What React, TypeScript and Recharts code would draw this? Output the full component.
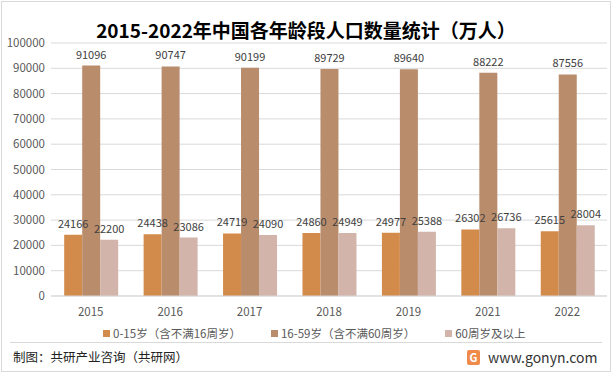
import { BarChart, Bar, XAxis, YAxis, CartesianGrid, LabelList } from "recharts";

const years = ["2015", "2016", "2017", "2018", "2019", "2021", "2022"];
const age0to15 = [24166, 24438, 24719, 24860, 24977, 26302, 25615];
const age16to59 = [91096, 90747, 90199, 89729, 89640, 88222, 87556];
const age60plus = [22200, 23086, 24090, 24949, 25388, 26736, 28004];
const yTicks = [0, 10000, 20000, 30000, 40000, 50000, 60000, 70000, 80000, 90000, 100000];

const seriesNames = ["0-15岁（含不满16周岁）", "16-59岁（含不满60周岁）", "60周岁及以上"];
const colors = ["#D38B4C", "#B98C6C", "#D2B4AA"];

const data = years.map((y, i) => ({
  year: y,
  a: age0to15[i],
  b: age16to59[i],
  c: age60plus[i],
}));

const font = "'Noto Sans CJK SC', 'Noto Sans', sans-serif";

export default function App() {
  return (
    <div
      style={{
        position: "absolute",
        left: 0,
        top: 0,
        width: 612,
        height: 373,
        background: "#fff",
        fontFamily: font,
        overflow: "hidden",
      }}
    >
      <div
        style={{
          position: "absolute",
          left: 1,
          top: 1,
          width: 608,
          height: 369,
          border: "1px solid #d9d9d9",
        }}
      />
      <div
        style={{
          position: "absolute",
          left: 0,
          top: 16,
          width: 612,
          textAlign: "center",
          fontSize: 19,
          fontWeight: 700,
          color: "#000",
          lineHeight: "28px",
        }}
      >
        2015-2022年中国各年龄段人口数量统计（万人）
      </div>
      <div style={{ position: "absolute", left: 0, top: 0 }}>
        <BarChart
          width={612}
          height={329}
          data={data}
          margin={{ top: 43, right: 5, left: 0, bottom: 3 }}
          barCategoryGap="16.6%"
          barGap={0}
        >
          <CartesianGrid vertical={false} stroke="#d9d9d9" />
          <XAxis
            dataKey="year"
            axisLine={{ stroke: "#d9d9d9" }}
            tickLine={false}
            tick={{ fontSize: 11.5, fill: "#595959", fontFamily: font }}
            tickMargin={6}
          />
          <YAxis
            width={51}
            domain={[0, 100000]}
            ticks={yTicks}
            axisLine={false}
            tickLine={false}
            tickSize={0}
            tickMargin={6}
            interval={0}
            tick={{ fontSize: 11.5, fill: "#595959", fontFamily: font }}
          />
          {(["a", "b", "c"] as const).map((k, i) => (
            <Bar key={k} dataKey={k} fill={colors[i]} isAnimationActive={false}>
              <LabelList
                dataKey={k}
                position="top"
                offset={7}
                style={{ fontSize: 11, fill: "#404040", fontFamily: font }}
              />
            </Bar>
          ))}
        </BarChart>
      </div>
      <div
        style={{
          position: "absolute",
          left: 103,
          top: 325,
          display: "flex",
          gap: 30,
          fontSize: 11.5,
          color: "#595959",
          lineHeight: "16px",
        }}
      >
        {seriesNames.map((n, i) => (
          <div key={n} style={{ display: "flex", alignItems: "center" }}>
            <span
              style={{
                display: "inline-block",
                width: 7,
                height: 7,
                background: colors[i],
                marginRight: 3,
              }}
            />
            {n}
          </div>
        ))}
      </div>
      <div
        style={{
          position: "absolute",
          left: 10,
          top: 342,
          width: 592,
          borderTop: "1px solid #d9d9d9",
        }}
      />
      <div
        style={{
          position: "absolute",
          left: 13,
          top: 347,
          fontSize: 12.5,
          color: "#222",
          lineHeight: "20px",
        }}
      >
        制图：共研产业咨询（共研网）
      </div>
      <div
        style={{
          position: "absolute",
          left: 467,
          top: 348,
          display: "flex",
          alignItems: "center",
          fontSize: 14,
          color: "#333",
          lineHeight: "18px",
        }}
      >
        <span
          style={{
            display: "inline-block",
            width: 13,
            height: 15,
            background: "#F08A4B",
            color: "#fff",
            fontSize: 11,
            fontWeight: 700,
            lineHeight: "15px",
            textAlign: "center",
            borderRadius: 2,
            marginRight: 8,
          }}
        >
          G
        </span>
        www.gonyn.com
      </div>
    </div>
  );
}
